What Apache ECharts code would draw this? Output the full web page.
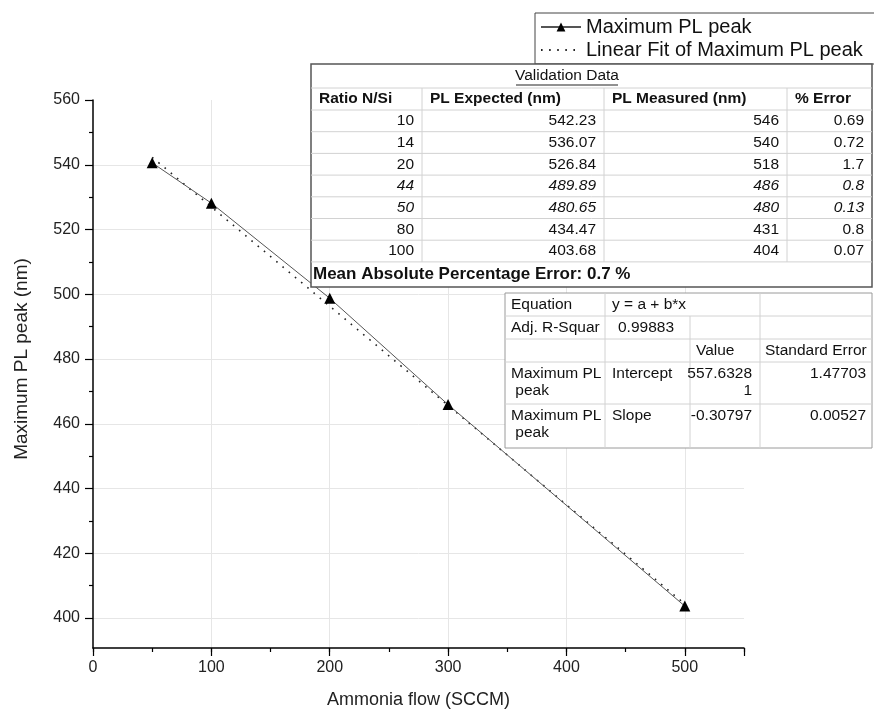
<!DOCTYPE html>
<html>
<head>
<meta charset="utf-8">
<script src="https://cdn.jsdelivr.net/npm/echarts@6/dist/echarts.min.js"></script>
<style>
  html, body { margin: 0; padding: 0; background: #fff; }
  #chart { width: 874px; height: 714px; }
</style>
</head>
<body>
<div id="chart"></div>
<script>
// measured points
const flow = [50, 100, 200, 300, 500];
const plPeak = [540.5, 528, 498.5, 465.5, 403];
// linear fit end points (y = a + b*x)
const fitFlow = [50, 500];
const fitPeak = [542.23, 403.65];

const yLabelTicks = [400, 420, 440, 460, 480, 500, 520, 540, 560];
const xLabelTicks = [0, 100, 200, 300, 400, 500];

// validation table
const valHeaders = ["Ratio N/Si", "PL Expected (nm)", "PL Measured (nm)", "% Error"];
const ratioNSi = ["10", "14", "20", "44", "50", "80", "100"];
const plExpected = ["542.23", "536.07", "526.84", "489.89", "480.65", "434.47", "403.68"];
const plMeasured = ["546", "540", "518", "486", "480", "431", "404"];
const pctError = ["0.69", "0.72", "1.7", "0.8", "0.13", "0.8", "0.07"];
const italicRows = [3, 4];
const mapeText = "Mean Absolute Percentage Error: 0.7 %";

// fit parameter table
const eqLabels = ["Equation", "Adj. R-Squar"];
const eqValues = ["y = a + b*x", "0.99883"];
const eqColHeads = ["Value", "Standard Error"];
const eqParams = ["Intercept", "Slope"];
const eqParamValue = [["557.6328", "1"], ["-0.30797"]];
const eqParamErr = ["1.47703", "0.00527"];

const FONT = '"Liberation Sans", Arial, sans-serif';
const TZ = 100;

const txt = (text, x, y, opts = {}) => ({
  type: "text",
  silent: true,
  z: TZ + 2,
  x: x,
  y: y,
  style: {
    text: text,
    fill: "#111",
    fontSize: opts.size || 15.5,
    fontFamily: FONT,
    fontWeight: opts.bold ? "bold" : "normal",
    fontStyle: opts.italic ? "italic" : "normal",
    textAlign: opts.align || "left",
    textVerticalAlign: "middle",
  },
});
const hline = (x1, x2, y, color) => ({
  type: "line", silent: true, z: TZ + 1,
  shape: { x1: x1, y1: y, x2: x2, y2: y },
  style: { stroke: color || "#d2d2d2", lineWidth: 1 },
});
const vline = (x, y1, y2, color) => ({
  type: "line", silent: true, z: TZ + 1,
  shape: { x1: x, y1: y1, x2: x, y2: y2 },
  style: { stroke: color || "#d2d2d2", lineWidth: 1 },
});

const buildValidationTable = () => {
  const left = 311, right = 872, top = 64, bottom = 287;
  const els = [];
  els.push({
    type: "rect", silent: true, z: TZ,
    shape: { x: left, y: top, width: right - left, height: bottom - top },
    style: { fill: "#fff", stroke: "#555", lineWidth: 1.5 },
  });
  els.push(txt("Validation Data", 567, 76, { align: "center" }));
  els.push(hline(516, 618, 85, "#222"));
  const colX = [left, 422, 604, 787, right];
  const headY = 99;
  const rowH = 21.7;
  const firstRow = 110;
  els.push(hline(left, right, 88));
  for (let i = 0; i <= ratioNSi.length; i++) {
    els.push(hline(left, right, firstRow + rowH * i));
  }
  for (let c = 1; c < 4; c++) {
    els.push(vline(colX[c], 88, firstRow + rowH * ratioNSi.length));
  }
  valHeaders.forEach((h, c) => {
    els.push(txt(h, colX[c] + 8, headY, { bold: true }));
  });
  const cols = [ratioNSi, plExpected, plMeasured, pctError];
  ratioNSi.forEach((_, i) => {
    const y = firstRow + rowH * i + 11;
    const it = italicRows.includes(i);
    cols.forEach((col, c) => {
      els.push(txt(col[i], colX[c + 1] - 8, y, { align: "right", italic: it }));
    });
  });
  els.push(txt(mapeText, left + 2, 274, { bold: true, size: 17 }));
  return els;
};

const buildEquationTable = () => {
  const left = 505, right = 872, top = 293, bottom = 448;
  const rowY = [293, 316, 339, 362, 404, 448];
  const colX = [left, 605, 690, 760, right];
  const els = [];
  els.push({
    type: "rect", silent: true, z: TZ,
    shape: { x: left, y: top, width: right - left, height: bottom - top },
    style: { fill: "#fff", stroke: "#9a9a9a", lineWidth: 1 },
  });
  for (let r = 1; r < rowY.length - 1; r++) els.push(hline(left, right, rowY[r]));
  els.push(vline(colX[1], top, bottom));
  els.push(vline(colX[2], rowY[1], bottom));
  els.push(vline(colX[3], top, bottom));

  eqLabels.forEach((l, r) => {
    els.push(txt(l, left + 6, rowY[r] + 12));
    els.push(txt(eqValues[r], colX[1] + 7 + (r === 1 ? 6 : 0), rowY[r] + 12));
  });
  els.push(txt(eqColHeads[0], colX[2] + 6, rowY[2] + 12));
  els.push(txt(eqColHeads[1], colX[3] + 5, rowY[2] + 12));
  eqParams.forEach((p, i) => {
    const y0 = rowY[3 + i] + 12;
    els.push(txt("Maximum PL", left + 6, y0));
    els.push(txt(" peak", left + 6, y0 + 17));
    els.push(txt(p, colX[1] + 7, y0));
    eqParamValue[i].forEach((v, k) => {
      els.push(txt(v, colX[3] - 8, y0 + 17 * k, { align: "right" }));
    });
    els.push(txt(eqParamErr[i], right - 6, y0, { align: "right" }));
  });
  return els;
};

const chart = echarts.init(document.getElementById("chart"));

chart.setOption({
  animation: false,
  textStyle: { fontFamily: FONT },
  legend: {
    orient: "vertical",
    left: 535,
    top: 13,
    padding: [4, 60, 4, 5],
    itemGap: 3,
    itemWidth: 40,
    itemHeight: 11,
    borderColor: "#444",
    borderWidth: 1,
    backgroundColor: "#fff",
    textStyle: { fontSize: 20, color: "#111", fontFamily: FONT },
    data: [
      { name: "Maximum PL peak" },
      { name: "Linear Fit of Maximum PL peak", itemStyle: { opacity: 0 } },
    ],
  },
  grid: [
    { left: 93, right: 130, top: 100, bottom: 64 },
    { left: 93, right: 130, top: 100, bottom: 96 },
  ],
  xAxis: [
    {
      gridIndex: 0,
      type: "value",
      min: 0,
      max: 550,
      interval: 100,
      name: "Ammonia flow (SCCM)",
      nameLocation: "middle",
      nameGap: 43,
      nameTextStyle: { fontSize: 18, color: "#222" },
      axisLine: { lineStyle: { color: "#000", width: 1.5 } },
      axisTick: { length: 8, lineStyle: { color: "#000", width: 1.2 } },
      axisLabel: {
        color: "#222", fontSize: 16, margin: 12,
        formatter: (v) => (xLabelTicks.includes(v) ? String(v) : ""),
      },
      splitLine: {
        show: true, showMinLine: false, showMaxLine: false,
        lineStyle: { color: "#e6e6e6", width: 1 },
      },
    },
    {
      // short ticks every 50
      gridIndex: 0,
      type: "value",
      position: "bottom",
      min: 0,
      max: 550,
      interval: 50,
      axisLine: { show: false },
      axisTick: { length: 4, lineStyle: { color: "#000", width: 1.2 } },
      axisLabel: { show: false },
      splitLine: { show: false },
    },
    { gridIndex: 1, type: "value", min: 0, max: 550, show: false },
  ],
  yAxis: [
    {
      gridIndex: 0,
      type: "value",
      min: 390,
      max: 560,
      interval: 10,
      axisLine: { show: true, lineStyle: { color: "#000", width: 1.5 } },
      axisTick: { show: false },
      axisLabel: { show: false },
      splitLine: { show: false },
    },
    {
      gridIndex: 1,
      type: "value",
      min: 400,
      max: 560,
      interval: 20,
      name: "Maximum PL peak (nm)",
      nameLocation: "middle",
      nameGap: 62,
      nameTextStyle: { fontSize: 19, color: "#222" },
      axisLine: { show: false },
      axisTick: { show: true, length: 8, lineStyle: { color: "#000", width: 1.2 } },
      minorTick: { show: true, splitNumber: 2, length: 4, lineStyle: { color: "#000", width: 1.2 } },
      axisLabel: {
        color: "#222", fontSize: 16, margin: 13,
        formatter: (v) => (yLabelTicks.includes(v) ? String(v) : ""),
      },
      splitLine: {
        show: true, showMaxLine: false,
        lineStyle: { color: "#e6e6e6", width: 1 },
      },
    },
  ],
  series: [
    {
      name: "Linear Fit of Maximum PL peak",
      type: "line",
      xAxisIndex: 0,
      yAxisIndex: 0,
      data: fitFlow.map((x, i) => [x, fitPeak[i]]),
      showSymbol: false,
      symbol: "none",
      lineStyle: { color: "#222", width: 1.6, type: [1.6, 6.5] },
      itemStyle: { color: "#222" },
      z: 2,
    },
    {
      name: "Maximum PL peak",
      type: "line",
      xAxisIndex: 0,
      yAxisIndex: 0,
      data: flow.map((x, i) => [x, plPeak[i]]),
      symbol: "triangle",
      symbolSize: 11,
      lineStyle: { color: "#555", width: 1 },
      itemStyle: { color: "#000" },
      z: 3,
    },
  ],
  graphic: [
    { type: "group", z: TZ, children: buildValidationTable() },
    { type: "group", z: TZ, children: buildEquationTable() },
  ],
});
</script>
</body>
</html>
